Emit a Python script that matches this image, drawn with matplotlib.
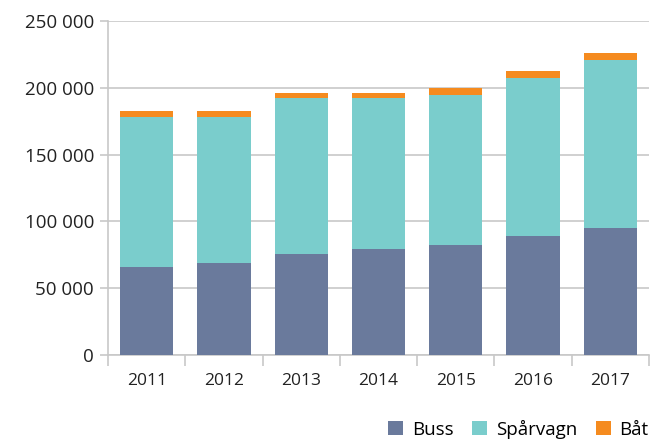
import matplotlib.pyplot as plt
import numpy as np
from matplotlib.patches import Patch

# Data
years = ['2011', '2012', '2013', '2014', '2015', '2016', '2017']
buss = [65900, 68900, 75600, 79400, 82300, 89000, 95000]
sparvagn = [112100, 109100, 116600, 112900, 112200, 118200, 125800]
bat = [4500, 4500, 3800, 4000, 5300, 5300, 5200]

series_names = ['Buss', 'Spårvagn', 'Båt']
colors = ['#6a7a9c', '#7acdcc', '#f58b1f']
grid_color = '#c8c8c8'

plt.rcParams['font.family'] = ['Open Sans', 'DejaVu Sans']

fig = plt.figure(figsize=(6.53, 4.41), dpi=100)
ax = fig.add_axes([108 / 653, 1 - 355 / 441, (649 - 108) / 653, (355 - 21) / 441])

x = np.arange(len(years))
width = 0.69
bottom = np.zeros(len(years))
for vals, col, name in zip([buss, sparvagn, bat], colors, series_names):
    ax.bar(x, vals, width, bottom=bottom, color=col, label=name, zorder=3)
    bottom += np.array(vals)

ax.set_ylim(0, 250000)
ax.set_xlim(-0.5, len(years) - 0.5)

yticks = np.arange(0, 250001, 50000)
ax.set_yticks(yticks)
ax.set_yticklabels([f'{v:,}'.replace(',', ' ') for v in yticks])
ax.yaxis.grid(True, color=grid_color, linewidth=1.2, zorder=0)

# x ticks at category boundaries, labels centered under bars
ax.set_xticks(np.arange(-0.5, len(years), 1.0))
ax.set_xticklabels([])
ax.set_xticks(x, minor=True)
ax.set_xticklabels(years, minor=True)
ax.tick_params(axis='x', which='minor', length=0, pad=13, labelsize=12.5, colors='#222222')
ax.tick_params(axis='x', which='major', length=8, width=1.2, color=grid_color)
ax.tick_params(axis='y', length=6, width=1.2, color=grid_color, labelsize=13.5,
               labelcolor='#222222', pad=4)

for side in ['top', 'right']:
    ax.spines[side].set_visible(False)
for side in ['left', 'bottom']:
    ax.spines[side].set_color(grid_color)
    ax.spines[side].set_linewidth(1.2)

handles = [Patch(facecolor=c, label=n) for c, n in zip(colors, series_names)]
fig.legend(handles=handles, loc='lower right', bbox_to_anchor=(1.01, -0.02), ncol=3,
           frameon=False, fontsize=13.5, handlelength=0.8, handleheight=0.8,
           handletextpad=0.45, columnspacing=1.0, borderaxespad=0.2)

fig.savefig('out.png', dpi=100)
